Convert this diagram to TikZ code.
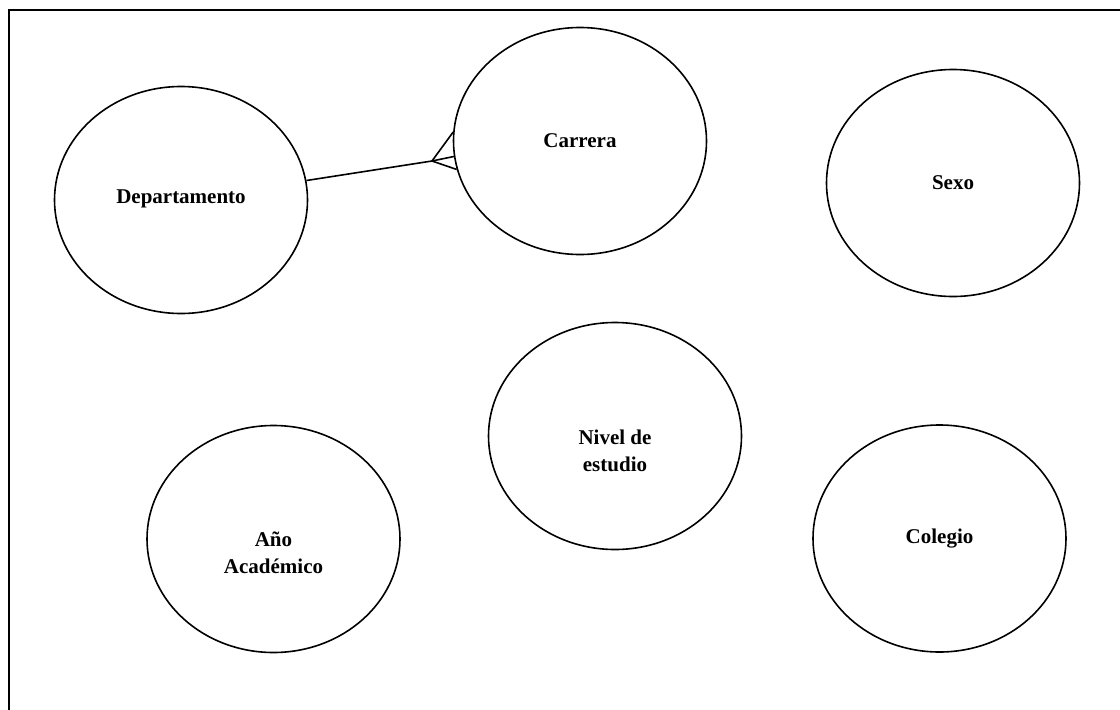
\documentclass[tikz,border=0pt]{standalone}
\usepackage{fontspec}
\setmainfont{Liberation Serif}
\usetikzlibrary{shapes.geometric}
\tikzset{
  ent/.style={draw=black, line width=1.6pt, ellipse, minimum width=253pt, minimum height=227pt, inner sep=0pt},
  lbl/.style={align=center, font=\fontsize{21}{27}\selectfont\bfseries, inner sep=0pt},
  conn/.style={draw=black, line width=1.6pt},
  frame/.style={draw=black, line width=2pt}
}
\begin{document}
\begin{tikzpicture}[x=1pt, y=-1pt]
\useasboundingbox (0,0) rectangle (1120,710);
\draw[frame] (1125,10) -- (9,10) -- (9,715);
% entities
\node[ent] (dep) at (181,200) {};
\node[lbl] at (181,199) {Departamento};
\node[ent] (car) at (580,141) {};
\node[lbl] at (580,141) {Carrera};
\node[ent] (sexo) at (953,183) {};
\node[lbl] at (953,183) {Sexo};
\node[ent] (nivel) at (615,436) {};
\node[lbl] at (615,451) {Nivel de\\estudio};
\node[ent] (anio) at (273.5,539) {};
\node[lbl] at (273.5,553) {Año\\Académico};
\node[ent] (col) at (939.5,538.5) {};
\node[lbl] at (939.5,539) {Colegio};
% crow's foot connector
\coordinate (foot) at (432,161);
\draw[conn] (dep) -- (foot);
\draw[conn] (foot) -- (car.176);
\draw[conn] (foot) -- (car.187.5);
\draw[conn] (foot) -- (car.193);
\end{tikzpicture}
\end{document}
